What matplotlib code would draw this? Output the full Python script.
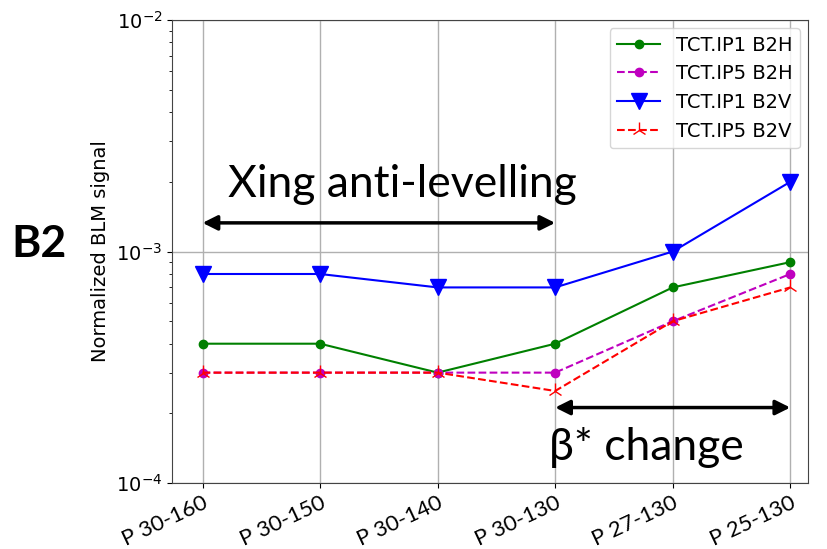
import matplotlib.pyplot as plt

# Data -----
configs = ["P 30-160", "P 30-150", "P 30-140", "P 30-130", "P 27-130", "P 25-130"]
ip1_b2h = [4e-4, 4e-4, 3e-4, 4e-4, 7e-4, 9e-4]
ip5_b2h = [3e-4, 3e-4, 3e-4, 3e-4, 5e-4, 8e-4]
ip1_b2v = [8e-4, 8e-4, 7e-4, 7e-4, 1e-3, 2e-3]
ip5_b2v = [3e-4, 3e-4, 3e-4, 2.5e-4, 5e-4, 7e-4]

xing_span = (0, 3)
beta_span = (3, 5)

# Plot -----
fig = plt.figure(figsize=(8.28, 5.49), dpi=100)
ax = fig.add_axes([0.2077, 0.12, 0.768, 0.8436])

x = list(range(len(configs)))
ax.plot(x, ip1_b2h, "g-o", markersize=6, lw=1.5, label="TCT.IP1 B2H")
ax.plot(x, ip5_b2h, "m--o", markersize=6, lw=1.5, label="TCT.IP5 B2H")
ax.plot(x, ip1_b2v, "b-v", markersize=11, lw=1.5, label="TCT.IP1 B2V")
ax.plot(x, ip5_b2v, "r--2", markersize=11, lw=1.5, label="TCT.IP5 B2V")

ax.set_yscale("log")
ax.set_ylim(1e-4, 1e-2)
ax.set_xlim(-0.26, 5.15)
ax.grid(True, which="major", color="#b0b0b0", lw=1)
ax.set_axisbelow(True)

ax.set_xticks(x)
ax.set_xticklabels(configs, rotation=25, ha="right", rotation_mode="anchor",
                   fontsize=16, family="Lato")
ax.tick_params(axis="y", labelsize=14)
ax.set_ylabel("Normalized BLM signal", fontsize=14)
for s in ax.spines.values():
    s.set_color("#444444")

ax.legend(loc="upper right", fontsize=14, handlelength=2.2,
          borderaxespad=0.4, framealpha=0.8)

# Annotations
arrow = dict(arrowstyle="<|-|>", color="black", lw=2.5, mutation_scale=22,
             shrinkA=0, shrinkB=0)
ax.annotate("", xy=(xing_span[0], 1.33e-3), xytext=(xing_span[1], 1.33e-3),
            arrowprops=arrow)
ax.annotate("", xy=(beta_span[0], 2.12e-4), xytext=(beta_span[1], 2.12e-4),
            arrowprops=arrow)
ax.text(1.7, 1.95e-3, "Xing anti-levelling", ha="center", va="center",
        fontsize=32, family="Lato")
ax.text(3.78, 1.43e-4, "β* change", ha="center", va="center",
        fontsize=32, family="Lato")

fig.text(0.047, 0.555, "B2", ha="center", va="center", fontsize=32,
         fontweight="bold", family="Lato")

plt.savefig("out.png", dpi=100)
